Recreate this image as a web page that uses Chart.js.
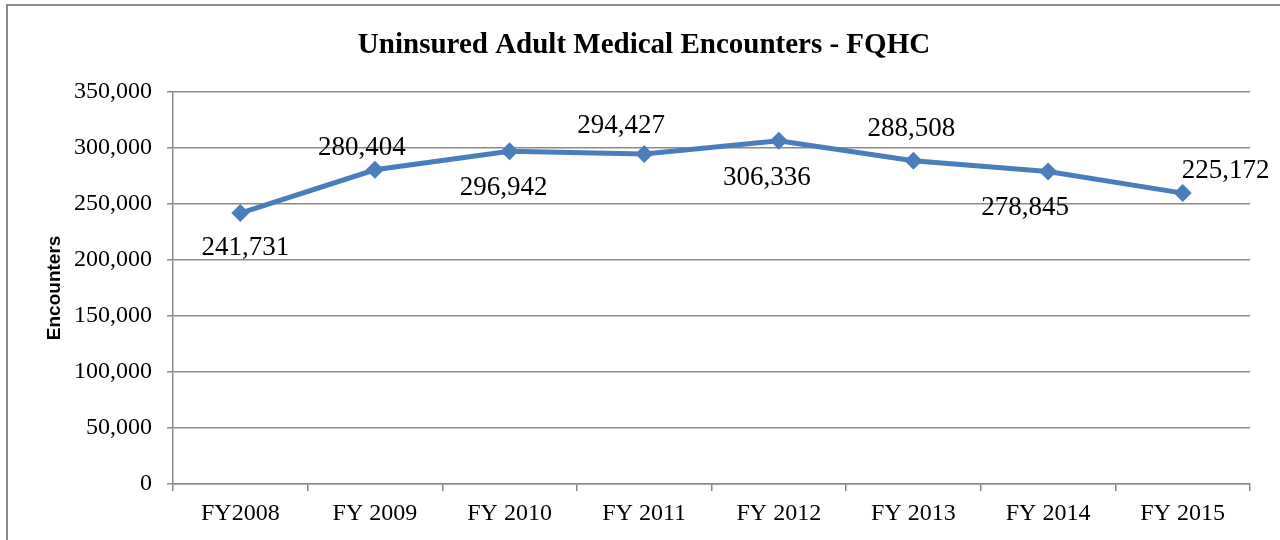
<!DOCTYPE html>
<html>
<head>
<meta charset="utf-8">
<script src="https://cdn.jsdelivr.net/npm/chart.js@4.4.1/dist/chart.umd.min.js"></script>
<style>
  html, body { margin: 0; padding: 0; background: #fff; }
  #wrap { position: relative; width: 1280px; height: 540px; }
  #frame { position: absolute; left: 6px; top: 4px; width: 1290px; height: 560px;
           border-left: 2px solid #8a8a8a; border-top: 2px solid #8a8a8a; pointer-events: none; }
  canvas { position: absolute; left: 0; top: 0; }
</style>
</head>
<body>
<div id="wrap">
  <canvas id="chart" width="1280" height="540"></canvas>
  <div id="frame"></div>
</div>
<script>
// datos del gráfico
const years = ['FY2008', 'FY 2009', 'FY 2010', 'FY 2011', 'FY 2012', 'FY 2013', 'FY 2014', 'FY 2015'];
const encounters = [241731, 280404, 296942, 294427, 306336, 288508, 278845, 259600];
// etiquetas tal como aparecen en el original (la última no coincide con el punto)
const pointLabels = ['241,731', '280,404', '296,942', '294,427', '306,336', '288,508', '278,845', '225,172'];

const serif = "'Liberation Serif', 'Times New Roman', serif";
const gridGray = '#8a8a8a';
const lineBlue = '#4a7ebb';

// desplazamiento de cada etiqueta respecto a su punto
const labelShift = [[5, 35], [-13, -22], [-6, 37], [-23, -28], [-12, 37], [-2, -32], [-23, 36], [43, -22]];

const pointTextPlugin = {
    id: 'pointText',
    afterDatasetsDraw(chart) {
        const ctx = chart.ctx;
        const meta = chart.getDatasetMeta(0);
        ctx.save();
        ctx.font = '27px ' + serif;
        ctx.fillStyle = '#000';
        ctx.textAlign = 'center';
        ctx.textBaseline = 'middle';
        meta.data.forEach((pt, i) => {
            const s = labelShift[i] || [0, -20];
            ctx.fillText(pointLabels[i], pt.x + s[0], pt.y + s[1]);
        });
        ctx.restore();
    }
};

new Chart(document.getElementById('chart'), {
    type: 'line',
    data: {
        labels: years,
        datasets: [{
            label: 'Encounters',
            data: encounters,
            borderColor: lineBlue,
            backgroundColor: lineBlue,
            borderWidth: 5,
            tension: 0,
            pointStyle: 'rectRot',
            pointRadius: 9,
            pointHoverRadius: 9,
            pointBackgroundColor: lineBlue,
            pointBorderColor: lineBlue,
            pointBorderWidth: 0
        }]
    },
    options: {
        responsive: false,
        animation: false,
        layout: { padding: { left: 38, right: 30, top: 0, bottom: 0 } },
        plugins: {
            legend: { display: false },
            tooltip: { enabled: false },
            title: {
                display: true,
                text: 'Uninsured Adult Medical Encounters - FQHC',
                color: '#000',
                font: { family: serif, size: 29, weight: 'bold' },
                padding: { top: 28, bottom: 29 }
            }
        },
        scales: {
            x: {
                offset: true,
                grid: {
                    offset: true,
                    drawOnChartArea: false,
                    drawTicks: true,
                    tickLength: 7,
                    color: gridGray,
                    lineWidth: 1.5
                },
                border: { display: true, color: gridGray, width: 1.5 },
                ticks: { color: '#000', font: { family: serif, size: 24 }, padding: 8, maxRotation: 0 },
                afterFit: s => { s.height = 56; }
            },
            y: {
                min: 0,
                max: 350000,
                ticks: {
                    stepSize: 50000,
                    color: '#000',
                    font: { family: serif, size: 24 },
                    padding: 15,
                    callback: v => v.toLocaleString('en-US')
                },
                grid: { color: gridGray, lineWidth: 1.5, tickLength: 6 },
                border: { display: true, color: gridGray, width: 1.5 },
                title: {
                    display: true,
                    text: 'Encounters',
                    color: '#000',
                    font: { family: "'Liberation Sans', Arial, sans-serif", size: 19, weight: 'bold' },
                    padding: { top: 5, bottom: 0 }
                },
                afterFit: s => { s.width = 135; }
            }
        }
    },
    plugins: [pointTextPlugin]
});
</script>
</body>
</html>
